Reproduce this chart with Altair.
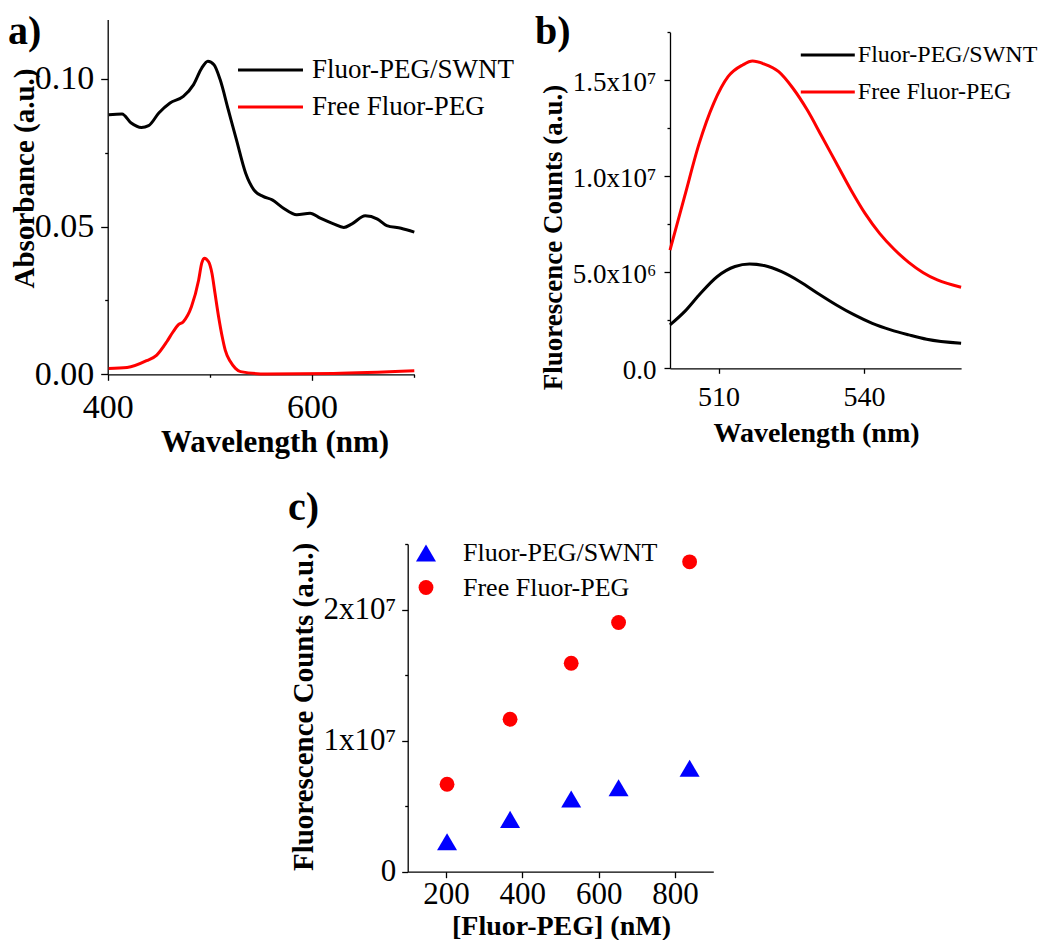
import json
import altair as alt
import pandas as pd

SERIES = ["Fluor-PEG/SWNT", "Free Fluor-PEG"]
PANEL_LABELS = ["a)", "b)", "c)"]

# ---- panel a: absorbance ----
A_WL_SWNT = [401, 414, 423, 433, 440, 450, 461, 474, 484, 492, 498, 504, 510, 518, 526,
             535, 543, 552, 561, 572, 585, 598, 608, 621, 631, 639, 652, 664, 673, 687, 700]
A_ABS_SWNT = [0.0878, 0.0881, 0.0850, 0.0835, 0.0841, 0.0884, 0.0918, 0.0940, 0.0980, 0.1036,
              0.1059, 0.1047, 0.0997, 0.0895, 0.0793, 0.0680, 0.0624, 0.0602, 0.0590, 0.0562,
              0.0540, 0.0545, 0.0528, 0.0509, 0.0497, 0.0509, 0.0536, 0.0525, 0.0503, 0.0494, 0.0481]
A_WL_FREE = [401, 419, 438, 448, 458, 464, 469, 474, 482, 489, 492, 494.4, 498.7, 502, 505,
             508.5, 512, 515, 520, 525, 530, 556, 621, 700]
A_ABS_FREE = [0.0020, 0.0023, 0.0046, 0.0065, 0.0111, 0.0144, 0.0167, 0.0178, 0.0229, 0.0319,
              0.0376, 0.0393, 0.0381, 0.0342, 0.0274, 0.0195, 0.0128, 0.0082, 0.0043, 0.0020,
              0.0009, 0.0001, 0.0003, 0.0012]
A_X_MAJOR = [400, 600]
A_X_MINOR = [500, 700]
A_Y_MAJOR = [0, 0.05, 0.1]
A_Y_MINOR = [0.025, 0.075]

# ---- panel b: fluorescence spectra ----
B_WL_SWNT = [500, 503, 506, 509.7, 513.4, 516.4, 519.4, 523, 526.8, 530.5, 534.3, 538,
             541.7, 545.5, 549.2, 552.9, 560]
B_FL_SWNT = [2.26e6, 2.95e6, 3.82e6, 4.77e6, 5.30e6, 5.43e6, 5.35e6, 5.03e6, 4.51e6, 3.90e6,
             3.30e6, 2.78e6, 2.34e6, 2.00e6, 1.74e6, 1.51e6, 1.30e6]
B_WL_FREE = [500, 503, 506, 509, 512, 515, 517, 519.4, 522.4, 525.3, 528.3, 531.3, 534.3,
             537.3, 540.2, 543.2, 546.2, 549.2, 552.2, 555.1, 560]
B_FL_FREE = [6.16e6, 8.94e6, 1.17e7, 1.38e7, 1.52e7, 1.58e7, 1.60e7, 1.585e7, 1.545e7, 1.46e7,
             1.345e7, 1.207e7, 1.068e7, 9.29e6, 8.07e6, 7.03e6, 6.20e6, 5.52e6, 4.98e6, 4.60e6, 4.22e6]
B_X_TICKS = [510, 540]
B_Y_MAJOR = [0, 5000000, 10000000, 15000000]
B_Y_LABELS = ["0.0", "5.0x10\u2076", "1.0x10\u2077", "1.5x10\u2077"]
B_Y_MINOR = [2500000, 7500000, 12500000, 17500000]

# ---- panel c: fluorescence vs concentration ----
C_CONC = [203, 368, 528, 652, 838]
C_SWNT = [2.29e6, 3.99e6, 5.55e6, 6.41e6, 7.89e6]
C_FREE = [6.67e6, 1.163e7, 1.590e7, 1.901e7, 2.364e7]
C_X_TICKS = [200, 400, 600, 800]
C_Y_MAJOR = [0, 10000000, 20000000]
C_Y_LABELS = ["0", "1x10\u2077", "2x10\u2077"]
C_Y_MINOR = [5000000, 15000000, 25000000]

FONT = "Liberation Serif"
TRIANGLE = "M0,-1.15L1.35,1.15L-1.35,1.15Z"
LINE_SYMBOL = "M-3,0H3"


def js(v):
    return json.dumps(v, ensure_ascii=False)


def tick_size(major, big, small):
    return {"condition": {"test": f"indexof({js(major)}, datum.value) >= 0", "value": big},
            "value": small}


def series_frame(xs, ys, name):
    return pd.DataFrame({"x": xs, "y": ys, "s": name})


def axis(**kw):
    return alt.Axis(labelFont=FONT, titleFont=FONT, labelColor="black", titleColor="black",
                    domainColor="black", tickColor="black", domainWidth=1.3, tickWidth=1.3,
                    grid=False, labelFlush=False, labelOverlap=False, labelBound=False,
                    titleFontWeight="bold", titleBaseline="alphabetic", **kw)


df_a = pd.concat([series_frame(A_WL_SWNT, A_ABS_SWNT, SERIES[0]),
                  series_frame(A_WL_FREE, A_ABS_FREE, SERIES[1])])
df_b = pd.concat([series_frame(B_WL_SWNT, B_FL_SWNT, SERIES[0]),
                  series_frame(B_WL_FREE, B_FL_FREE, SERIES[1])])
df_c = pd.concat([series_frame(C_CONC, C_SWNT, SERIES[0]),
                  series_frame(C_CONC, C_FREE, SERIES[1])])

# ---------------- panel a ----------------
pa = alt.Chart(df_a).mark_line(strokeWidth=3, interpolate="monotone").encode(
    x=alt.X("x:Q",
            scale=alt.Scale(domain=[400, 700], range=[99.7, 406.3], nice=False, zero=False),
            axis=axis(orient="bottom", offset=-565.7, values=A_X_MAJOR + A_X_MINOR,
                      labelExpr=f"indexof({js(A_X_MAJOR)}, datum.value) >= 0 ? format(datum.value, 'd') : ''",
                      tickSize=tick_size(A_X_MAJOR, 6, 3), labelPadding=10,
                      labelFontSize=34, title="Wavelength (nm)", titleFontSize=31,
                      titleX=266.5, titleY=77.5)),
    y=alt.Y("y:Q",
            scale=alt.Scale(domain=[0, 0.12], range=[366.3, 11.6], nice=False, zero=False),
            axis=axis(orient="left", offset=-99.7, values=A_Y_MAJOR + A_Y_MINOR,
                      labelExpr=f"indexof({js(A_Y_MAJOR)}, datum.value) >= 0 ? format(datum.value, '.2f') : ''",
                      tickSize=tick_size(A_Y_MAJOR, 7, 3), labelPadding=7,
                      labelFontSize=34, title="Absorbance (a.u.)", titleFontSize=29,
                      titleX=-74.7, titleY=170)),
    color=alt.Color("s:N", scale=alt.Scale(domain=SERIES, range=["#000000", "#ff0000"]),
                    legend=alt.Legend(title=None, orient="none", legendX=249, legendY=48.5,
                                      symbolType=LINE_SYMBOL, symbolSize=469, symbolStrokeWidth=3,
                                      labelFont=FONT, labelFontSize=27, labelColor="black",
                                      labelOffset=28, labelLimit=0, rowPadding=9, padding=0)),
)

# ---------------- panel b ----------------
pb = alt.Chart(df_b).mark_line(strokeWidth=3, interpolate="monotone").encode(
    x=alt.X("x:Q",
            scale=alt.Scale(domain=[500, 560], range=[662, 953.1], nice=False, zero=False),
            axis=axis(orient="bottom", offset=-571.7, values=B_X_TICKS, format="d",
                      tickSize=5, labelPadding=10.3, labelFontSize=28,
                      title="Wavelength (nm)", titleFontSize=28,
                      titleX=808, titleY=72.7)),
    y=alt.Y("y:Q",
            scale=alt.Scale(domain=[0, 17500000], range=[360.3, 24.3], nice=False, zero=False),
            axis=axis(orient="left", offset=-662, values=B_Y_MAJOR + B_Y_MINOR,
                      labelExpr=f"{js(B_Y_LABELS)}[indexof({js(B_Y_MAJOR)}, datum.value)] || ''",
                      tickSize=tick_size(B_Y_MAJOR, 6, 3), labelPadding=8, labelOffset=2,
                      labelFontSize=27, title="Fluorescence Counts (a.u.)", titleFontSize=27,
                      titleX=-108.5, titleY=229)),
    color=alt.Color("s:N", scale=alt.Scale(domain=SERIES, range=["#000000", "#ff0000"]),
                    legend=alt.Legend(title=None, orient="none", legendX=807.8, legendY=35,
                                      symbolType=LINE_SYMBOL, symbolSize=324, symbolStrokeWidth=3,
                                      labelFont=FONT, labelFontSize=24, labelColor="black",
                                      labelOffset=18, labelLimit=0, rowPadding=13, padding=0)),
)

# ---------------- panel c ----------------
legend_c = alt.Legend(title=None, orient="none", legendX=405, legendY=532, symbolSize=220,
                      labelFont=FONT, labelFontSize=26, labelColor="black", labelOffset=24,
                      labelLimit=0, rowPadding=8.5, padding=0, symbolOpacity=1)
pc = alt.Chart(df_c).mark_point(filled=True, opacity=1, size=220, strokeWidth=0).encode(
    x=alt.X("x:Q",
            scale=alt.Scale(domain=[100, 900], range=[399.7, 705.3], nice=False, zero=False),
            axis=axis(orient="bottom", offset=-68.3, values=C_X_TICKS, format="d",
                      tickSize=6, labelPadding=1.5, labelFontSize=31,
                      title="[Fluor-PEG] (nM)", titleFontSize=28,
                      titleX=553, titleY=62.5)),
    y=alt.Y("y:Q",
            scale=alt.Scale(domain=[0, 25000000], range=[863.7, 536], nice=False, zero=False),
            axis=axis(orient="left", offset=-399.7, values=C_Y_MAJOR + C_Y_MINOR,
                      labelExpr=f"{js(C_Y_LABELS)}[indexof({js(C_Y_MAJOR)}, datum.value)] || ''",
                      tickSize=tick_size(C_Y_MAJOR, 6, 3), labelPadding=6,
                      labelFontSize=31, title="Fluorescence Counts (a.u.)", titleFontSize=29,
                      titleX=-95.2, titleY=698.5)),
    color=alt.Color("s:N", scale=alt.Scale(domain=SERIES, range=["#0000ff", "#ff0000"]),
                    legend=legend_c),
    shape=alt.Shape("s:N", scale=alt.Scale(domain=SERIES, range=[TRIANGLE, "circle"]),
                    legend=legend_c),
)


def panel_label(text, px, py):
    return alt.Chart(pd.DataFrame({"t": [text]})).mark_text(
        font=FONT, fontSize=40, fontWeight="bold", align="left", baseline="alphabetic",
        color="black").encode(x=alt.value(px), y=alt.value(py), text="t:N")


la = panel_label(PANEL_LABELS[0], 0, 36)
lb = panel_label(PANEL_LABELS[1], 527, 36)
lc = panel_label(PANEL_LABELS[2], 280, 512)

chart = alt.layer(pa, pb, pc, la, lb, lc).resolve_scale(
    x="independent", y="independent", color="independent", shape="independent"
).resolve_axis(
    x="independent", y="independent"
).resolve_legend(
    color="independent", shape="independent"
).properties(
    width=1034, height=932, autosize=alt.AutoSizeParams(type="none"), padding=0,
    background="white"
).configure_view(
    stroke="transparent"
).configure_axis(
    labelFont=FONT, titleFont=FONT
).configure_text(
    font=FONT
)

chart.save("out.html", embed_options={"renderer": "svg", "actions": False})
